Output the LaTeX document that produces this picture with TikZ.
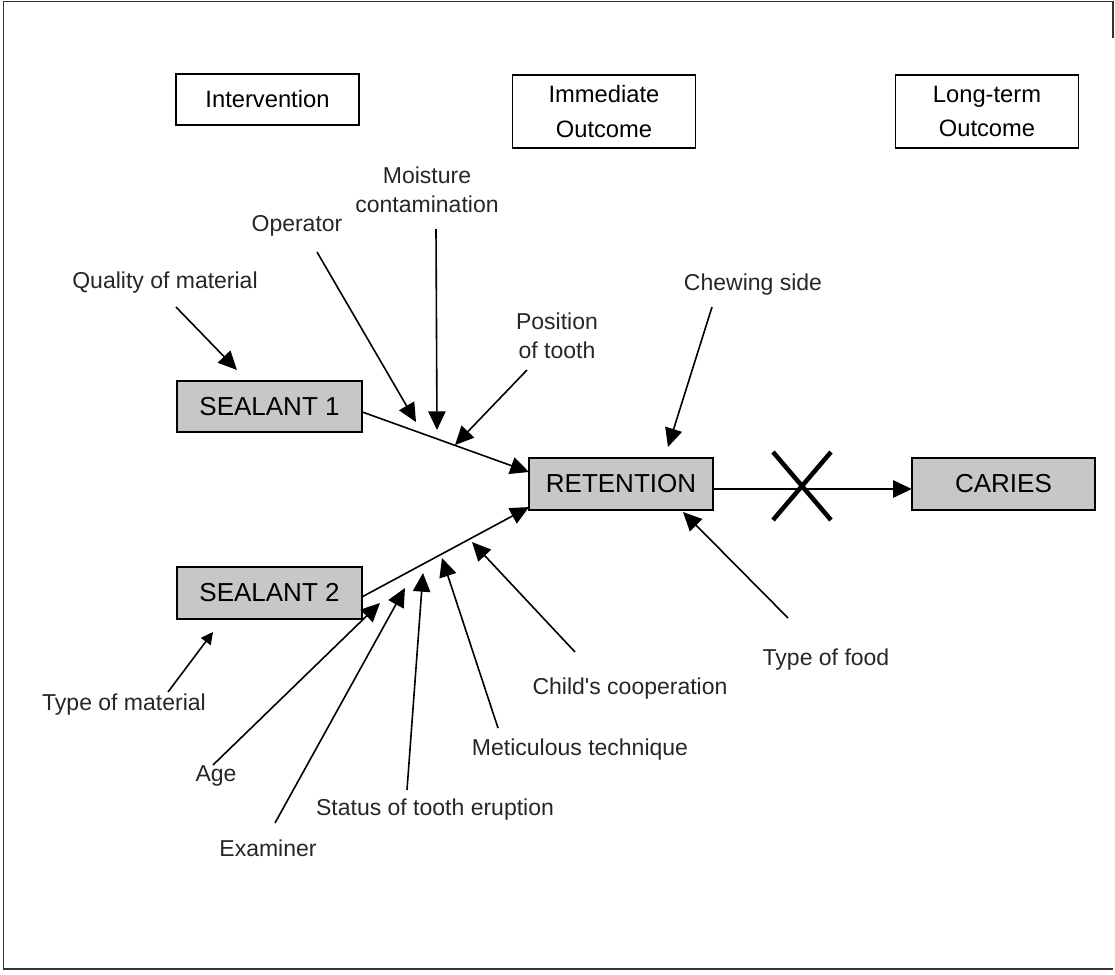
\documentclass[tikz,border=0pt]{standalone}
\usepackage{fontspec}
\setmainfont{Liberation Sans}
\usetikzlibrary{arrows.meta}
\begin{document}
\begin{tikzpicture}[x=0.75pt,y=-0.75pt,
  every node/.style={inner sep=0pt,outer sep=0pt},
  hdr/.style={draw=black,line width=1.1pt,fill=white,minimum width=137.5pt,align=center,font=\fontsize{17.8}{26}\selectfont},
  fac/.style={draw=black,line width=1.3pt,fill=black!22,minimum width=138.5pt,minimum height=38.6pt,font=\fontsize{19.5}{23}\selectfont},
  lbl/.style={text=black!85,align=center,font=\fontsize{17.25}{22}\selectfont},
  arr/.style={line width=1.2pt,-{Triangle[length=14pt,width=13pt]}},
  frame/.style={line width=1.3pt,draw=black!80},
]
\useasboundingbox (0,0) rectangle (1115,975);
% frame
\draw[frame] (1113,38) -- (1113,1.5) -- (3.5,1.5) -- (3.5,969) -- (1113,969);

% header boxes
\node[hdr,minimum height=38.25pt] (hint) at (267.5,99.5) {Intervention};
\node[hdr,minimum height=54.75pt] (himm) at (604,111.5) {Immediate\\Outcome};
\node[hdr,minimum height=54.75pt] (hlong) at (987,111.5) {Long-term\\Outcome};

% factor boxes
\node[fac] (s1) at (269.5,406.5) {SEALANT 1};
\node[fac] (s2) at (269.5,593) {SEALANT 2};
\node[fac,minimum width=138pt] (ret) at (621,484) {RETENTION};
\node[fac,minimum width=137.5pt] (car) at (1003.5,484) {CARIES};

% labels
\node[lbl,anchor=base] (qual) at (165,288) {Quality of material};
\node[lbl,anchor=base] (oper) at (297,231) {Operator};
\node[lbl] (moist) at (427,190) {Moisture\\contamination};
\node[lbl] (pos) at (557,336) {Position\\of tooth};
\node[lbl,anchor=base] (chew) at (753,290) {Chewing side};
\node[lbl,anchor=base] (food) at (826,665) {Type of food};
\node[lbl,anchor=base] (child) at (630,694) {Child\textquotesingle s cooperation};
\node[lbl,anchor=base] (metic) at (580,755) {Meticulous technique};
\node[lbl,anchor=base] (status) at (435,815) {Status of tooth eruption};
\node[lbl,anchor=base] (exam) at (268,856) {Examiner};
\node[lbl,anchor=base] (age) at (216,781) {Age};
\node[lbl,anchor=base] (tmat) at (124,710) {Type of material};

% arrow end points
\coordinate (qT) at (176,307);  \coordinate (qH) at (237,370);
\coordinate (oT) at (317,252);  \coordinate (oH) at (416,422);
\coordinate (mT) at (436,229);  \coordinate (mH) at (437,430);
\coordinate (pT) at (527,370);  \coordinate (pH) at (455,445);
\coordinate (cT) at (712,307);  \coordinate (cH) at (668,447);
\coordinate (fT) at (788,618);  \coordinate (fH) at (683,512);
\coordinate (chT) at (575,652); \coordinate (chH) at (472,542);
\coordinate (meT) at (498,728); \coordinate (meH) at (442,558);
\coordinate (sT) at (407,790);  \coordinate (sH) at (423,573);
\coordinate (eT) at (275,823);  \coordinate (eH) at (405,588);
\coordinate (aT) at (213,765);  \coordinate (aH) at (380,603);
\coordinate (tT) at (168,692);  \coordinate (tH) at (213,632);

% main connectors
\draw[arr] ([yshift=-4pt]s1.east) -- ([yshift=9pt]ret.west);
\draw[arr] ([yshift=-3pt]s2.east) -- ([yshift=2pt]ret.south west);
\draw[arr] ([yshift=-3.75pt]ret.east) -- ([yshift=-3.75pt]car.west);

% factor arrows
\draw[arr] (qT) -- (qH);
\draw[arr] (oT) -- (oH);
\draw[arr] (mT) -- (mH);
\draw[arr] (pT) -- (pH);
\draw[arr] (cT) -- (cH);
\draw[arr] (fT) -- (fH);
\draw[arr] (chT) -- (chH);
\draw[arr] (meT) -- (meH);
\draw[arr] (sT) -- (sH);
\draw[arr] (eT) -- (eH);
\draw[arr] (aT) -- (aH);
\draw[line width=1.2pt,-{Triangle[length=9pt,width=9pt]}] (tT) -- (tH);

% cross
\coordinate (xc) at (802,486);
\draw[line width=3.4pt] ([shift={(-29,-34)}]xc) -- ([shift={(29,34)}]xc)
  ([shift={(29,-34)}]xc) -- ([shift={(-29,34)}]xc);
\end{tikzpicture}
\end{document}
